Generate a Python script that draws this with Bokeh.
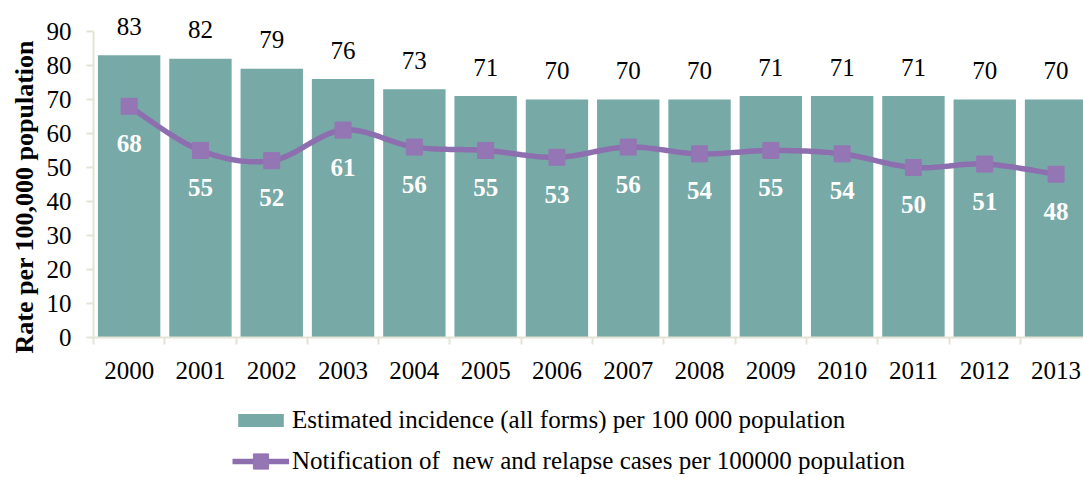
import numpy as np
from bokeh.plotting import figure
from bokeh.layouts import column
from bokeh.models import Range1d, FixedTicker, Legend, LegendItem, Title
from bokeh.core.properties import value
from bokeh.embed import file_html
from bokeh.resources import INLINE

# Data
years = ["2000", "2001", "2002", "2003", "2004", "2005", "2006",
         "2007", "2008", "2009", "2010", "2011", "2012", "2013"]
incidence = [83, 82, 79, 76, 73, 71, 70, 70, 70, 71, 71, 71, 70, 70]
notification = [68, 55, 52, 61, 56, 55, 53, 56, 54, 55, 54, 50, 51, 48]
y_ticks = [0, 10, 20, 30, 40, 50, 60, 70, 80, 90]

BAR = "#77A9A7"
LINE = "#8D6FAF"
MARK = "#9476B4"
AXIS = "#E4E4D6"
FONT = "Liberation Serif"

xs = list(range(len(years)))


def smooth_path(px, py, steps=24):
    """Bezier smoothing through every point (Catmull-Rom style control points)."""
    px = np.asarray(px, float)
    py = np.asarray(py, float)
    ex = np.concatenate([[px[0]], px, [px[-1]]])
    ey = np.concatenate([[py[0]], py, [py[-1]]])
    t = np.linspace(0, 1, steps, endpoint=False)
    out_x, out_y = [], []
    for i in range(1, len(ex) - 2):
        x0, x1, x2, x3 = ex[i - 1], ex[i], ex[i + 1], ex[i + 2]
        y0, y1, y2, y3 = ey[i - 1], ey[i], ey[i + 1], ey[i + 2]
        cx1, cy1 = x1 + (x2 - x0) / 6, y1 + (y2 - y0) / 6
        cx2, cy2 = x2 - (x3 - x1) / 6, y2 - (y3 - y1) / 6
        a, b, c, d = (1 - t) ** 3, 3 * (1 - t) ** 2 * t, 3 * (1 - t) * t ** 2, t ** 3
        out_x.extend(a * x1 + b * cx1 + c * cx2 + d * x2)
        out_y.extend(a * y1 + b * cy1 + c * cy2 + d * y2)
    out_x.append(px[-1])
    out_y.append(py[-1])
    return out_x, out_y


p = figure(width=1083, height=386, output_backend="svg", toolbar_location=None,
           x_range=Range1d(-0.5, 13.385), y_range=Range1d(0, 99.1),
           min_border_left=93, min_border_right=0, min_border_top=0,
           min_border_bottom=49)
p.outline_line_color = None
p.xgrid.visible = False
p.ygrid.visible = False
p.background_fill_color = "white"
p.border_fill_color = "white"

# Bars
bars = p.vbar(x=xs, top=incidence, width=0.875, fill_color=BAR, line_color=None)

# Smoothed notification line with square markers
lx, ly = smooth_path(xs, notification)
line_r = p.line(lx, ly, line_color=LINE, line_width=5.5)
mark_r = p.scatter(xs, notification, marker="square", size=16,
                   fill_color=MARK, line_color=MARK)

# Value labels
p.text(xs, incidence, text=[str(v) for v in incidence], text_font=value(FONT),
       text_font_size="25px", text_align="center", text_baseline="alphabetic",
       y_offset=-29, text_color="black")
p.text(xs, notification, text=[str(v) for v in notification], text_font=value(FONT),
       text_font_size="25px", text_font_style="bold", text_align="center",
       text_baseline="alphabetic", y_offset=37, text_color="white")

# Axes
xa = p.xaxis[0]
xa.ticker = FixedTicker(ticks=xs, minor_ticks=[i - 0.5 for i in range(len(years) + 1)])
xa.major_label_overrides = {i: y for i, y in enumerate(years)}
xa.major_tick_line_color = None
xa.major_tick_out = 0
xa.major_tick_in = 0
xa.minor_tick_out = 7
xa.minor_tick_in = 0
xa.minor_tick_line_color = AXIS
xa.minor_tick_line_width = 2
xa.axis_line_color = AXIS
xa.axis_line_width = 2
xa.major_label_text_font = FONT
xa.major_label_text_font_size = "25px"
xa.major_label_text_color = "black"
xa.major_label_standoff = 17

ya = p.yaxis[0]
ya.ticker = FixedTicker(ticks=y_ticks)
ya.bounds = (0, 90)
ya.axis_line_color = AXIS
ya.axis_line_width = 2
ya.major_tick_line_color = AXIS
ya.major_tick_line_width = 2
ya.major_tick_out = 7
ya.major_tick_in = 0
ya.minor_tick_line_color = None
ya.major_label_text_font = FONT
ya.major_label_text_font_size = "25px"
ya.major_label_text_color = "black"
ya.major_label_standoff = 15

# Vertical axis title
p.add_layout(Title(text="Rate per 100,000 population", align="left", offset=-16,
                   text_font=FONT, text_font_size="26px", text_font_style="bold",
                   text_color="black", standoff=9), "left")

# Legend strip under the chart, with hidden swatch renderers
key = figure(width=1083, height=91, output_backend="svg", toolbar_location=None,
             x_range=Range1d(-0.5, 13.385), y_range=Range1d(0, 99.1),
             x_axis_type=None, y_axis_type=None,
             min_border_left=0, min_border_right=0, min_border_top=0,
             min_border_bottom=0)
key.outline_line_color = None
key.grid.visible = False
key_bar = key.vbar(x=xs, top=incidence, width=0.875, fill_color=BAR,
                   line_color=None, visible=False)
key_line = key.line(x=xs, y=notification, line_color=LINE, line_width=5.5,
                    visible=False)
key_mark = key.scatter(x=xs, y=notification, marker="square", size=16,
                       fill_color=MARK, line_color=MARK, visible=False)

common = dict(label_standoff=3, margin=0, padding=0, border_line_color=None,
              background_fill_alpha=0, label_text_font=FONT,
              label_text_font_size="25px", label_text_color="black",
              glyph_width=57)
leg1 = Legend(items=[LegendItem(label="Estimated incidence (all forms) per 100 000 population",
                                renderers=[key_bar])],
              glyph_height=16, label_height=16, location=(139, 43), **common)
leg2 = Legend(items=[LegendItem(label="Notification of  new and relapse cases per 100000 population",
                                renderers=[key_line, key_mark])],
              glyph_height=38, label_height=38, location=(139, -3), **common)
key.add_layout(leg1)
key.add_layout(leg2)

layout = column(p, key, spacing=0)
open("out.html", "w").write(file_html(layout, INLINE))
